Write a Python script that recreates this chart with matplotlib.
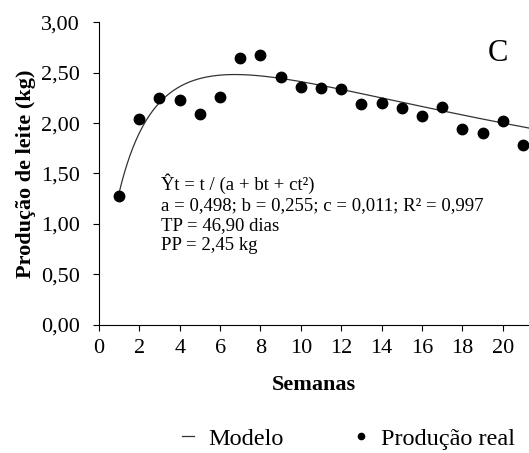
import numpy as np
import matplotlib
matplotlib.use("Agg")
import matplotlib.pyplot as plt
from matplotlib.ticker import FuncFormatter
from matplotlib.lines import Line2D

plt.rcParams['font.family'] = ['Liberation Serif', 'DejaVu Serif']

# weekly milk production (kg)
semanas = list(range(1, 22))
producao = [1.28, 2.04, 2.25, 2.23, 2.09, 2.26, 2.65, 2.67, 2.46, 2.36, 2.35,
            2.34, 2.19, 2.20, 2.15, 2.07, 2.16, 1.94, 1.90, 2.02, 1.78]

# model parameters shown on the chart
a, b, c = 0.498, 0.255, 0.011

t = np.linspace(1, 21.5, 300)
modelo = t / (a + b * t + c * t ** 2)

fig = plt.figure(figsize=(5.29, 4.53), dpi=100)
ax = fig.add_axes([0.187, 0.283, 0.813, 0.668])

ax.plot(t, modelo, color='#333333', lw=0.9)
ax.plot(semanas, producao, 'o', color='black', ms=7.5)

ax.set_xlim(0, 21.3)
ax.set_ylim(0, 3.0)
ax.set_xticks(range(0, 22, 2))
ax.set_yticks(np.arange(0, 3.01, 0.5))
ax.yaxis.set_major_formatter(FuncFormatter(lambda v, p: f"{v:.2f}".replace('.', ',')))
ax.tick_params(direction='out', length=4.5, width=0.8, labelsize=16)
ax.tick_params(axis='y', pad=9)
ax.tick_params(axis='x', pad=6)
ax.spines['top'].set_visible(False)
ax.spines['right'].set_visible(False)
for s in ['left', 'bottom']:
    ax.spines[s].set_linewidth(0.8)

ax.set_xlabel('Semanas', fontsize=16, fontweight='bold', labelpad=12)
ax.set_ylabel('Produção de leite (kg)', fontsize=16, fontweight='bold', labelpad=4)

ax.text(0.928, 0.898, 'C', transform=ax.transAxes, fontsize=22, ha='center', va='center')

texto = ("Ŷt = t / (a + bt + ct²)\n"
         "a = 0,498; b = 0,255; c = 0,011; R² = 0,997\n"
         "TP = 46,90 dias\n"
         "PP = 2,45 kg")
ax.text(3.05, 1.50, texto, fontsize=13.5, va='top', ha='left', linespacing=1.22)

handles = [Line2D([], [], color='#333333', lw=0.9),
           Line2D([], [], marker='o', ls='', color='black', ms=4.5)]
fig.legend(handles, ['Modelo', 'Produção real'], loc='center', bbox_to_anchor=(0.659, 0.032),
           ncol=2, frameon=False, fontsize=17.5, handlelength=0.5, handletextpad=0.6,
           columnspacing=2.9)

fig.savefig('out.png', dpi=100)
